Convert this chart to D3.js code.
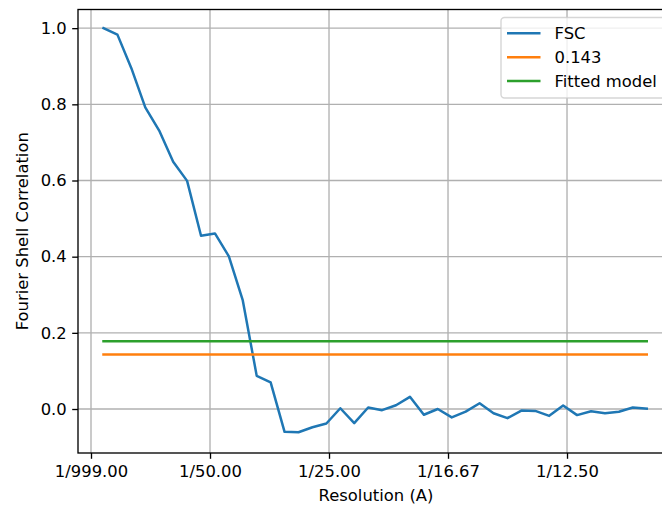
<!DOCTYPE html>
<html>
<head>
<meta charset="utf-8">
<script src="https://cdn.jsdelivr.net/npm/d3@7"></script>
<style>
  html, body { margin: 0; padding: 0; background: #fff; }
  svg { display: block; font-family: "DejaVu Sans", sans-serif; }
</style>
</head>
<body>
<svg id="chart" width="662" height="508"></svg>
<script>
// ---- data ----
const freq = [0.00210, 0.00444, 0.00678, 0.00912, 0.01146, 0.01381, 0.01615, 0.01849, 0.02083, 0.02317,
              0.02551, 0.02785, 0.03019, 0.03253, 0.03487, 0.03722, 0.03956, 0.04190, 0.04424, 0.04658,
              0.04892, 0.05126, 0.05360, 0.05594, 0.05828, 0.06063, 0.06297, 0.06531, 0.06765, 0.06999,
              0.07233, 0.07467, 0.07701, 0.07935, 0.08169, 0.08404, 0.08638, 0.08872, 0.09106, 0.09340];
const fsc = [1.000, 0.983, 0.895, 0.792, 0.731, 0.649, 0.599, 0.455, 0.461, 0.401,
             0.285, 0.087, 0.070, -0.060, -0.061, -0.048, -0.038, 0.002, -0.037, 0.004,
             -0.003, 0.010, 0.032, -0.015, 0.000, -0.022, -0.007, 0.015, -0.011, -0.024,
             -0.004, -0.005, -0.018, 0.009, -0.016, -0.006, -0.011, -0.007, 0.004, 0.001];
const thresholdValue = 0.143;
const fittedValue = 0.178;
const xTickValues = [0, 0.02, 0.04, 0.06, 0.08];
const xTickLabels = ["1/999.00", "1/50.00", "1/25.00", "1/16.67", "1/12.50"];
const yTickValues = [0.0, 0.2, 0.4, 0.6, 0.8, 1.0];
const seriesNames = ["FSC", "0.143", "Fitted model"];
const seriesColors = ["#1f77b4", "#ff7f0e", "#2ca02c"];

// ---- layout ----
const svg = d3.select("#chart");
const axLeft = 78, axRight = 674, axTop = 9.5, axBottom = 453;
const fs = 16.4;

const x = d3.scaleLinear().domain([-0.002185, 0.09798]).range([axLeft, axRight]);
const y = d3.scaleLinear().domain([-0.1155, 1.049]).range([axBottom, axTop]);

svg.append("rect").attr("width", 662).attr("height", 508).attr("fill", "#fff");

svg.append("defs").append("clipPath").attr("id", "clip")
  .append("rect").attr("x", axLeft).attr("y", axTop).attr("width", axRight - axLeft).attr("height", axBottom - axTop);

// grid
const grid = svg.append("g").attr("clip-path", "url(#clip)");
grid.selectAll(".gx").data(xTickValues).enter().append("line")
  .attr("x1", d => x(d)).attr("x2", d => x(d)).attr("y1", axTop).attr("y2", axBottom)
  .attr("stroke", "#b0b0b0").attr("stroke-width", 1.33);
grid.selectAll(".gy").data(yTickValues).enter().append("line")
  .attr("y1", d => y(d)).attr("y2", d => y(d)).attr("x1", axLeft).attr("x2", axRight)
  .attr("stroke", "#b0b0b0").attr("stroke-width", 1.33);

// lines
const plot = svg.append("g").attr("clip-path", "url(#clip)");
const line = d3.line().x(d => x(d[0])).y(d => y(d[1]));
const seriesData = [
  freq.map((f, i) => [f, fsc[i]]),
  freq.map(f => [f, thresholdValue]),
  freq.map(f => [f, fittedValue])
];
seriesData.forEach((data, i) => {
  plot.append("path").datum(data).attr("d", line)
    .attr("fill", "none").attr("stroke", seriesColors[i])
    .attr("stroke-width", 2.5).attr("stroke-linejoin", "round").attr("stroke-linecap", "square");
});

// axes
const xAxis = d3.axisBottom(x).tickValues(xTickValues)
  .tickFormat((d, i) => xTickLabels[i]).tickSize(5.8).tickPadding(5.5);
const gx = svg.append("g").attr("transform", `translate(0,${axBottom})`).call(xAxis);
const yAxis = d3.axisLeft(y).tickValues(yTickValues)
  .tickFormat(d3.format(".1f")).tickSize(5.8).tickPadding(5.5);
const gy = svg.append("g").attr("transform", `translate(${axLeft},0)`).call(yAxis);
[gx, gy].forEach(g => {
  g.select(".domain").remove();
  g.selectAll(".tick line").attr("stroke", "#000").attr("stroke-width", 1.33);
  g.selectAll(".tick text").attr("fill", "#000").style("font-size", fs + "px")
    .style("font-family", "DejaVu Sans");
});
gx.selectAll(".tick text").attr("dy", "0.8em");

// spines
svg.append("rect").attr("x", axLeft).attr("y", axTop).attr("width", axRight - axLeft).attr("height", axBottom - axTop)
  .attr("fill", "none").attr("stroke", "#000").attr("stroke-width", 1.33);

// labels
svg.append("text").attr("x", (axLeft + axRight) / 2).attr("y", 501)
  .attr("text-anchor", "middle").style("font-size", fs + "px").text("Resolution (A)");
svg.append("text").attr("transform", `translate(28.3,${(axTop + axBottom) / 2}) rotate(-90)`)
  .attr("text-anchor", "middle").style("font-size", fs + "px").text("Fourier Shell Correlation");

// legend
const lg = svg.append("g");
lg.append("rect").attr("x", 501).attr("y", 17.5).attr("width", 165).attr("height", 80.5)
  .attr("rx", 3.5).attr("fill", "#fff").attr("fill-opacity", 0.8)
  .attr("stroke", "#cccccc").attr("stroke-opacity", 0.8).attr("stroke-width", 1.4);
seriesNames.forEach((name, i) => {
  const cy = 33.3 + i * 23.85;
  lg.append("line").attr("x1", 507).attr("x2", 540.5).attr("y1", cy).attr("y2", cy)
    .attr("stroke", seriesColors[i]).attr("stroke-width", 2.5);
  lg.append("text").attr("x", 554.5).attr("y", cy).attr("dy", "0.36em")
    .style("font-size", fs + "px").attr("fill", "#000").text(name);
});
</script>
</body>
</html>
